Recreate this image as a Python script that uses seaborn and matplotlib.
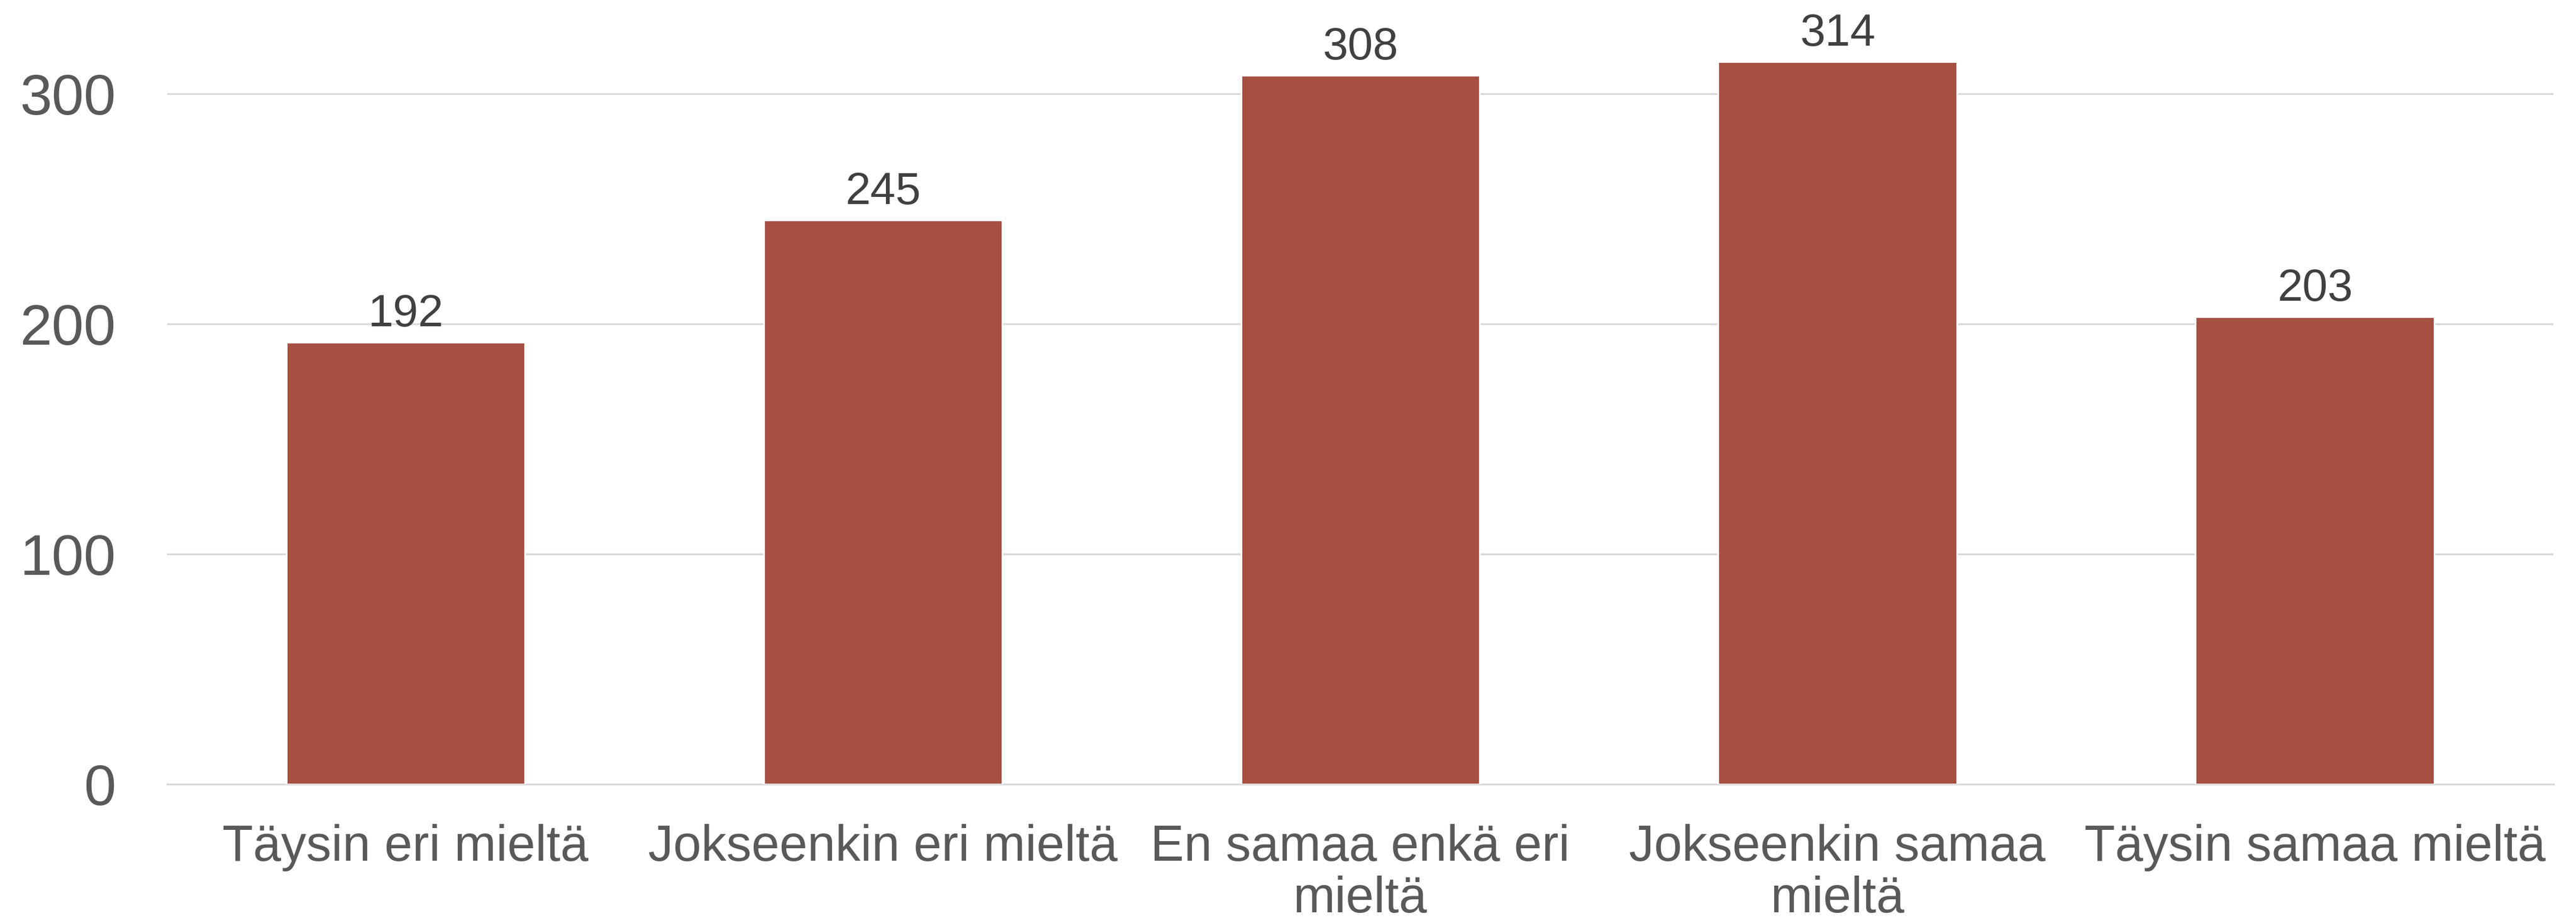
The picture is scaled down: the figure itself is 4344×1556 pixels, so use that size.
import matplotlib
matplotlib.use("Agg")
import matplotlib.pyplot as plt
import seaborn as sns
import pandas as pd

categories = ["Täysin eri mieltä", "Jokseenkin eri mieltä", "En samaa enkä eri\nmieltä",
              "Jokseenkin samaa\nmieltä", "Täysin samaa mieltä"]
values = [192, 245, 308, 314, 203]
yticks = [0, 100, 200, 300]

sns.set_theme(style="white")
plt.rcParams['font.family'] = ['Liberation Sans', 'DejaVu Sans']

DPI = 200
W, H = 4344, 1556
fig = plt.figure(figsize=(W / DPI, H / DPI), dpi=DPI)
left, right, base = 281.5, 4306, 1322
ax = fig.add_axes([left / W, (H - base) / H, (right - left) / W, base / H])

df = pd.DataFrame({"cat": categories, "val": values})
sns.barplot(data=df, x="cat", y="val", color="#A65042", saturation=1, width=0.5, ax=ax, zorder=3)

ax.set_xlim(-0.5, 4.5)
ax.set_ylim(0, base / 3.88)
ax.set_yticks(yticks)
ax.yaxis.grid(True, color="#D9D9D9", linewidth=1.1, zorder=0)
ax.set_axisbelow(True)
for s in ["top", "right", "left"]:
    ax.spines[s].set_visible(False)
ax.spines["bottom"].set_color("#D9D9D9")
ax.spines["bottom"].set_linewidth(1.1)
ax.tick_params(axis="y", length=0, pad=31, labelsize=35, labelcolor="#595959")
ax.tick_params(axis="x", length=0, pad=24, labelsize=30.5, labelcolor="#595959")
ax.set_xlabel("")
ax.set_ylabel("")
for lbl in ax.get_xticklabels():
    lbl.set_linespacing(1.12)

for c in ax.containers:
    ax.bar_label(c, labels=[str(v) for v in values], padding=4, fontsize=27.5, color="#404040", zorder=5)

fig.savefig("out.png", dpi=DPI, facecolor="white")
